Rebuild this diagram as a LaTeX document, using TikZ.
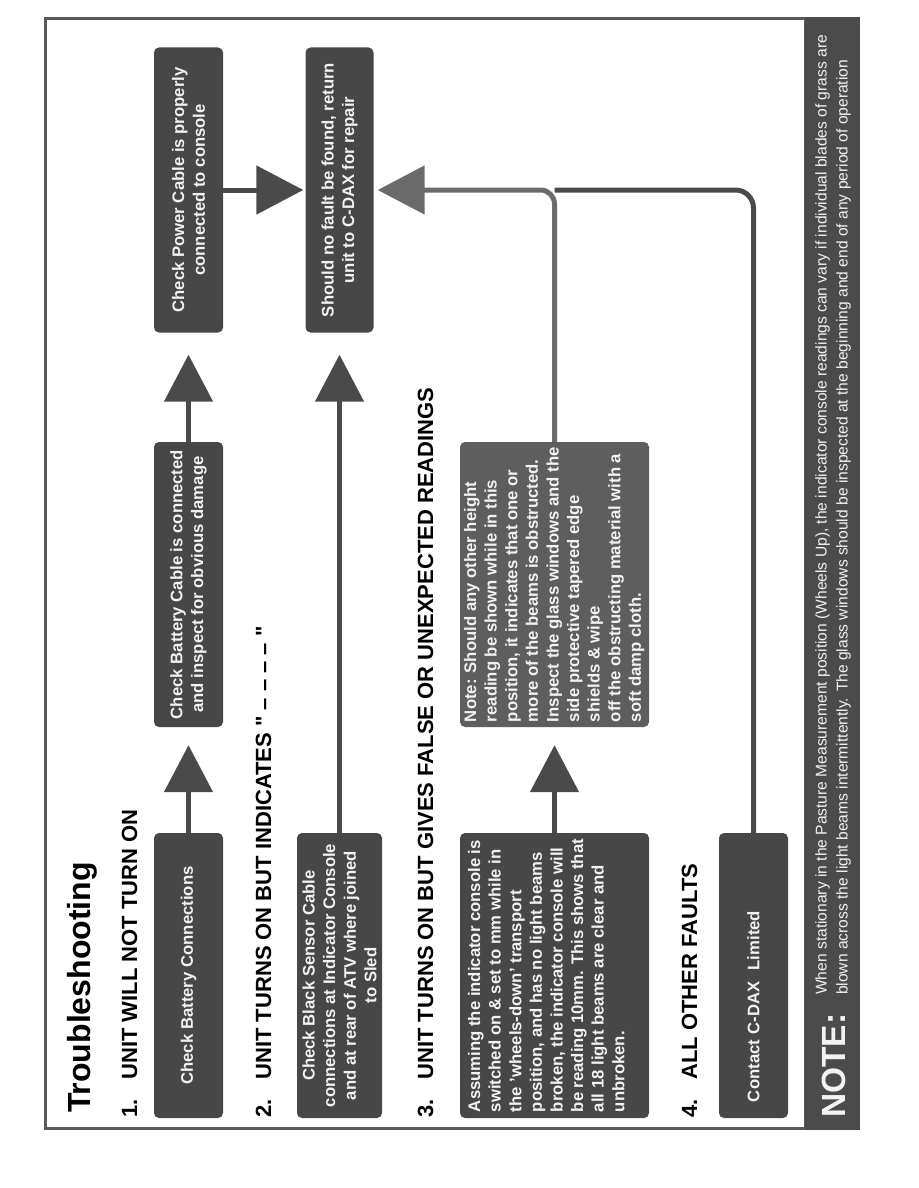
\documentclass[tikz,border=0pt]{standalone}
\usepackage{fontspec}
\setmainfont{Liberation Sans}
\usetikzlibrary{arrows.meta}
\definecolor{boxgray}{HTML}{474747}
\definecolor{notegray}{HTML}{5E5E5E}
\definecolor{linegray}{HTML}{4A4A4A}
\definecolor{notelinegray}{HTML}{6B6B6B}
\definecolor{framegray}{HTML}{5A5A5A}
\definecolor{barfill}{HTML}{4B4B4B}
\definecolor{boxtext}{HTML}{F2F2F2}
\tikzset{
  stepbox/.style={rotate=90, fill=boxgray, rounded corners=5pt, text=boxtext,
    font=\bfseries\fontsize{16.7}{20.6}\selectfont, minimum width=285pt, inner sep=4pt, align=center},
  heading/.style={rotate=90, anchor=base west, inner sep=0pt, font=\bfseries\fontsize{22}{26}\selectfont},
  flow/.style={line width=5pt, draw=linegray, -{Triangle[width=48pt,length=47pt]}}
}
\begin{document}
\begin{tikzpicture}[x=1pt,y=-1pt]
\useasboundingbox (0,0) rectangle (918,1188);
% frame and note bar
\draw[framegray, line width=3pt] (45,19) rectangle (805,1128);
\fill[barfill] (805,17) rectangle (860,1130);

\node[rotate=90, anchor=base west, inner sep=0pt, font=\bfseries\fontsize{32}{38}\selectfont] (title) at (90,1113) {Troubleshooting};

% headings
\node[heading] (h1) at (137,1118) {1.\hspace{20pt}UNIT WILL NOT TURN ON};
\node[heading] (h2) at (271,1118) {2.\hspace{20pt}UNIT TURNS ON BUT INDICATES \textquotedbl{} -- -- -- -- \textquotedbl};
\node[heading] (h3) at (433,1118) {3.\hspace{20pt}UNIT TURNS ON BUT GIVES FALSE OR UNEXPECTED READINGS};
\node[heading] (h4) at (697,1118) {4.\hspace{20pt}ALL OTHER FAULTS};

% boxes
\node[stepbox, minimum height=69pt] (battery) at (188.5,975.5) {Check Battery Connections};
\node[stepbox, minimum height=69pt] (cable) at (188.5,584.5) {Check Battery Cable is connected\\and inspect for obvious damage};
\node[stepbox, minimum height=69pt] (power) at (188.5,190) {Check Power Cable is properly\\connected to console};
\node[stepbox, minimum height=68pt] (repair) at (339.5,190) {Should no fault be found, return\\unit to C-DAX for repair};
\node[stepbox, minimum height=85pt] (sensor) at (339.5,975.5) {Check Black Sensor Cable\\connections at Indicator Console\\and at rear of ATV where joined\\to Sled};
\node[stepbox, inner xsep=6pt, inner ysep=8pt] (assume) at (554.5,975.5) {\parbox[c][173pt][t]{273pt}{\raggedright
  Assuming the indicator console is\\switched on \& set to mm while in\\the 'wheels-down' transport\\position, and has no light beams\\broken, the indicator console will\\be reading 10mm. This shows that\\all 18 light beams are clear and\\unbroken.}};
\node[stepbox, fill=notegray, inner xsep=5pt, inner ysep=4pt] (note) at (554.5,584.5) {\parbox[c][181pt][t]{275pt}{\raggedright
  Note: Should any other height\\reading be shown while in this\\position, it indicates that one or\\more of the beams is obstructed.\\Inspect the glass windows and the\\side protective tapered edge\\shields \& wipe\\off the obstructing material with a\\soft damp cloth.}};
\node[stepbox, minimum height=69pt, align=left, text width=253pt, inner xsep=16pt] (contact) at (753.5,975.5) {Contact C-DAX\ \ Limited};

% connectors
\draw[flow, shorten >=18pt] (battery.east) -- (cable.west);
\draw[flow, shorten >=22pt] (cable.east) -- (power.west);
\draw[flow, shorten >=2pt] (power.south) -- (repair.north);
\draw[flow, shorten >=22pt] (sensor.east) -- (repair.west);
\draw[flow, shorten >=18pt] (assume.east) -- (note.west);
\draw[line width=5pt, draw=linegray, rounded corners=18pt] (contact.east) |- (note.east |- repair.south);
\draw[flow, draw=notelinegray, rounded corners=14pt, shorten >=4pt] (note.east) |- (repair.south);

% note bar text
\node[rotate=90, anchor=base west, inner sep=0pt, text=boxtext, font=\bfseries\fontsize{33.5}{38}\selectfont] (notelabel) at (845,1118) {NOTE:};
\node[rotate=90, anchor=north west, inner sep=0pt, text=boxtext, align=left, font=\fontsize{15.6}{21}\selectfont] (notetext) at (815,995) {When stationary in the Pasture Measurement position (Wheels Up), the indicator console readings can vary if individual blades of grass are\\blown across the light beams intermittently. The glass windows should be inspected at the beginning and end of any period of operation};
\end{tikzpicture}
\end{document}
